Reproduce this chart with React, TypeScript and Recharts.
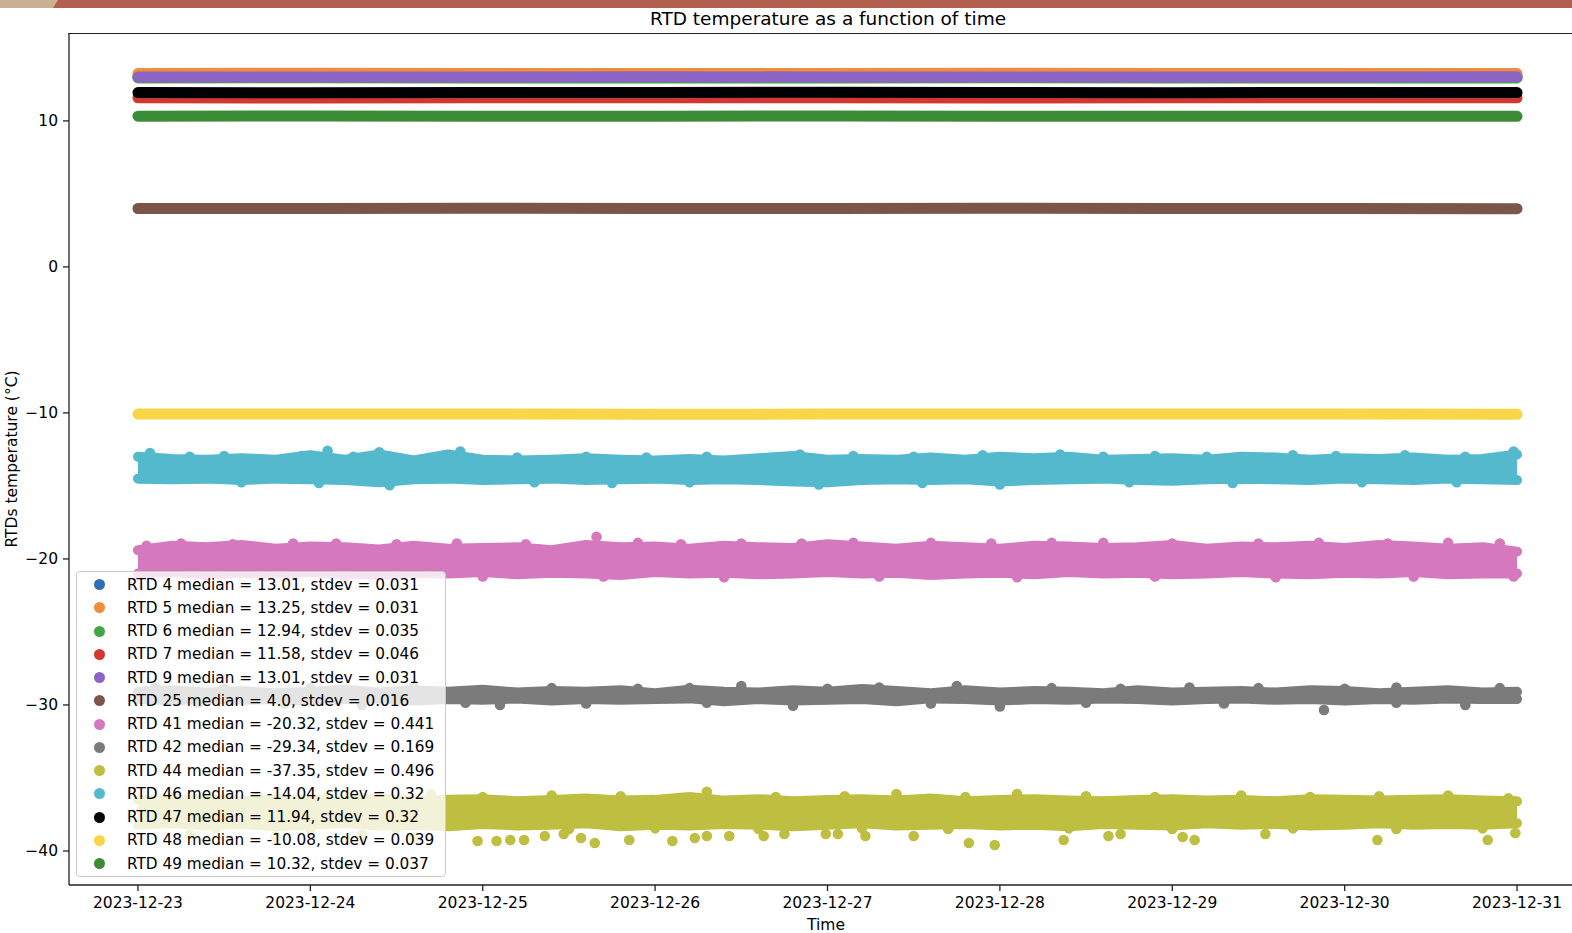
import React from 'react';
import { ComposedChart, Line, Area, Scatter, XAxis, YAxis } from 'recharts';

// x values are days after 2023-12-23 00:00
const dayTicks = [0, 1, 2, 3, 4, 5, 6, 7, 8];
const dayLabels = [
	'2023-12-23', '2023-12-24', '2023-12-25', '2023-12-26', '2023-12-27',
	'2023-12-28', '2023-12-29', '2023-12-30', '2023-12-31',
];
const yTicks = [-40, -30, -20, -10, 0, 10];

// stable sensors, one reading per day
const stableDays = [0, 1, 2, 3, 4, 5, 6, 7, 8];
const rtd4 = [13.01, 13.02, 13.0, 13.01, 13.01, 13.02, 13.0, 13.01, 13.01];
const rtd5 = [13.25, 13.26, 13.25, 13.24, 13.25, 13.26, 13.25, 13.25, 13.24];
const rtd6 = [12.94, 12.95, 12.93, 12.94, 12.94, 12.95, 12.94, 12.93, 12.94];
const rtd7 = [11.58, 11.57, 11.59, 11.58, 11.58, 11.57, 11.58, 11.59, 11.58];
const rtd9 = [13.01, 13.0, 13.01, 13.02, 13.01, 13.0, 13.01, 13.01, 13.02];
const rtd25 = [4.0, 4.0, 4.01, 4.0, 4.0, 4.01, 4.0, 4.0, 3.99];
const rtd47 = [11.94, 11.93, 11.95, 11.94, 11.96, 11.94, 11.93, 11.95, 11.94];
const rtd48 = [-10.08, -10.07, -10.08, -10.09, -10.08, -10.07, -10.08, -10.08, -10.09];
const rtd49 = [10.32, 10.33, 10.31, 10.32, 10.33, 10.31, 10.32, 10.32, 10.31];

// noisy sensors: envelope of the dot centres, sampled every 0.2 day
const sampleDays = [
	0, 0.2, 0.4, 0.6, 0.8, 1, 1.2, 1.4, 1.6, 1.8, 2, 2.2, 2.4, 2.6, 2.8, 3, 3.2, 3.4, 3.6, 3.8, 4,
	4.2, 4.4, 4.6, 4.8, 5, 5.2, 5.4, 5.6, 5.8, 6, 6.2, 6.4, 6.6, 6.8, 7, 7.2, 7.4, 7.6, 7.8, 8,
];
const rtd46Hi = [
	-13.0, -13.15, -13.2, -13.1, -13.2, -12.9, -13.2, -12.85, -13.25, -12.85, -13.2, -13.25, -13.2, -13.1,
	-13.2, -13.25, -13.15, -13.25, -13.1, -12.95, -13.2, -13.15, -13.2, -13.05, -13.2, -13.0, -13.1, -13.0,
	-13.2, -13.15, -13.1, -13.2, -13.0, -13.05, -13.2, -13.1, -13.15, -13.05, -13.2, -13.15, -12.85,
];
const rtd46Lo = [
	-14.5, -14.55, -14.5, -14.6, -14.5, -14.55, -14.6, -14.75, -14.55, -14.5, -14.6, -14.55, -14.5, -14.6,
	-14.55, -14.5, -14.6, -14.55, -14.6, -14.7, -14.75, -14.6, -14.55, -14.6, -14.55, -14.7, -14.6, -14.55,
	-14.5, -14.6, -14.65, -14.55, -14.5, -14.55, -14.6, -14.5, -14.55, -14.6, -14.5, -14.55, -14.6,
];
const rtd41Hi = [
	-19.4, -19.1, -19.2, -19.05, -19.3, -19.15, -19.2, -19.35, -19.1, -19.3, -19.25, -19.2, -19.4, -19.05,
	-19.2, -19.15, -19.3, -19.1, -19.2, -19.25, -19.0, -19.15, -19.3, -19.1, -19.2, -19.3, -19.1, -19.15,
	-19.25, -19.2, -19.05, -19.3, -19.15, -19.2, -19.1, -19.25, -19.05, -19.15, -19.3, -19.2, -19.5,
];
const rtd41Lo = [
	-21.0, -20.9, -21.05, -20.95, -21.0, -20.9, -21.0, -21.1, -20.95, -21.0, -20.9, -21.05, -20.95, -21.0,
	-21.1, -20.9, -21.0, -20.95, -21.05, -21.0, -20.9, -21.0, -20.95, -21.1, -21.0, -20.95, -21.05, -20.9,
	-21.0, -20.95, -21.05, -21.0, -20.9, -21.0, -21.05, -20.95, -21.0, -20.9, -21.05, -21.0, -21.0,
];
const rtd42Hi = [
	-29.1, -29.0, -29.15, -29.05, -29.2, -29.1, -28.95, -29.15, -29.0, -29.1, -28.95, -29.15, -29.05, -29.1,
	-29.0, -29.2, -28.95, -29.1, -29.15, -29.0, -29.1, -28.9, -29.05, -29.2, -29.0, -29.15, -29.05, -29.1,
	-29.2, -29.0, -29.15, -29.1, -29.05, -29.15, -29.0, -29.05, -29.2, -29.1, -29.0, -29.15, -29.1,
];
const rtd42Lo = [
	-29.6, -29.7, -29.55, -29.65, -29.6, -29.75, -29.6, -29.55, -29.7, -29.6, -29.65, -29.55, -29.7, -29.6,
	-29.65, -29.6, -29.55, -29.75, -29.6, -29.7, -29.65, -29.6, -29.75, -29.55, -29.6, -29.7, -29.6, -29.65,
	-29.55, -29.6, -29.7, -29.6, -29.55, -29.65, -29.6, -29.7, -29.6, -29.65, -29.55, -29.6, -29.6,
];
const rtd44Hi = [
	-36.5, -36.55, -36.4, -36.6, -36.45, -36.5, -36.6, -36.4, -36.55, -36.5, -36.45, -36.6, -36.5, -36.4,
	-36.55, -36.5, -36.3, -36.55, -36.45, -36.6, -36.5, -36.45, -36.55, -36.4, -36.6, -36.5, -36.45, -36.55,
	-36.6, -36.5, -36.45, -36.55, -36.5, -36.6, -36.45, -36.5, -36.55, -36.5, -36.45, -36.55, -36.6,
];
const rtd44Lo = [
	-38.2, -38.1, -38.25, -38.15, -38.3, -38.2, -38.1, -38.25, -38.2, -38.3, -38.15, -38.25, -38.2, -38.1,
	-38.3, -38.2, -38.25, -38.15, -38.2, -38.3, -38.2, -38.1, -38.25, -38.2, -38.15, -38.25, -38.2, -38.3,
	-38.15, -38.2, -38.25, -38.1, -38.2, -38.15, -38.25, -38.2, -38.1, -38.2, -38.15, -38.2, -38.1,
];

// single readings sticking out of the noisy bands [day, value]
const rtd46Spikes = [
	[0.07, -12.75], [1.1, -12.6], [1.4, -12.7], [1.87, -12.65], [3.84, -12.85], [5.35, -12.85], [7.98, -12.65],
	[1.46, -14.95], [3.95, -14.9], [5.0, -14.9], [0.5, -12.95], [2.6, -13.0], [6.7, -12.9],
	[0.3, -13.0], [0.95, -12.95], [1.25, -13.0], [2.2, -13.05], [2.95, -13.05], [3.3, -13.0], [4.15, -12.95],
	[4.5, -13.0], [4.9, -12.9], [5.6, -13.0], [5.9, -12.95], [6.2, -13.0], [6.95, -12.95], [7.35, -12.9],
	[7.7, -13.0], [0.6, -14.75], [1.05, -14.8], [2.3, -14.75], [2.75, -14.8], [3.2, -14.75], [4.55, -14.8],
	[5.75, -14.75], [6.35, -14.8], [7.1, -14.75], [7.65, -14.75],
];
const rtd41Spikes = [
	[2.66, -18.49], [0.9, -18.95], [3.5, -18.95], [4.6, -18.9], [5.6, -18.9], [7.9, -18.95], [1.5, -19.0],
	[6.5, -18.95], [0.05, -19.1], [7.98, -21.2],
	[0.25, -18.95], [0.55, -19.0], [1.15, -18.95], [1.85, -18.95], [2.25, -19.0], [2.9, -18.9], [3.15, -19.0],
	[3.85, -18.95], [4.15, -18.9], [4.95, -18.95], [5.3, -18.9], [6.0, -18.95], [6.85, -18.9], [7.25, -18.95],
	[7.6, -18.9], [0.4, -21.2], [1.2, -21.25], [2.0, -21.2], [2.7, -21.2], [3.4, -21.25], [4.3, -21.2],
	[5.1, -21.25], [5.9, -21.2], [6.6, -21.25], [7.4, -21.2],
];
const rtd42Spikes = [
	[0.1, -28.8], [1.6, -28.75], [3.5, -28.7], [4.3, -28.8], [4.75, -28.7], [6.1, -28.8], [7.3, -28.8],
	[2.1, -30.0], [3.8, -30.05], [5.0, -30.1], [6.88, -30.35], [7.7, -30.0], [1.3, -30.0],
	[0.5, -28.9], [1.0, -28.85], [2.4, -28.85], [2.9, -28.9], [3.2, -28.85], [4.0, -28.9], [5.3, -28.85],
	[5.7, -28.9], [6.5, -28.85], [7.0, -28.9], [7.9, -28.85], [0.35, -29.85], [0.85, -29.9], [1.9, -29.85],
	[2.6, -29.9], [3.3, -29.85], [4.6, -29.9], [5.5, -29.85], [6.3, -29.9], [7.3, -29.85],
];
const rtd44Spikes = [
	[3.3, -35.95], [1.7, -36.15], [4.4, -36.1], [5.1, -36.1], [2.4, -36.2], [6.4, -36.2], [7.6, -36.2],
	[1.97, -39.32], [2.08, -39.32], [2.16, -39.25], [2.24, -39.25], [2.36, -38.97], [2.47, -38.84],
	[2.57, -39.11], [2.65, -39.45], [2.85, -39.25], [3.1, -39.32], [3.23, -39.11], [3.3, -38.97],
	[3.43, -38.97], [3.63, -38.97], [3.75, -38.84], [3.99, -38.84], [4.06, -38.84], [4.22, -38.97],
	[4.5, -38.97], [4.82, -39.45], [4.97, -39.59], [5.37, -39.25], [5.63, -38.97], [5.7, -38.84],
	[6.06, -39.04], [6.13, -39.25], [6.54, -38.84], [7.19, -39.25], [7.83, -39.25], [7.99, -38.77],
	[0.3, -38.9], [0.8, -39.0], [1.3, -38.9], [1.6, -39.1],
	[0.2, -36.3], [0.7, -36.25], [1.1, -36.3], [1.4, -36.25], [2.0, -36.3], [2.8, -36.25], [3.7, -36.3],
	[4.1, -36.25], [4.8, -36.3], [5.5, -36.25], [5.9, -36.3], [6.8, -36.3], [7.2, -36.25], [7.95, -36.4],
	[0.45, -38.45], [1.0, -38.5], [1.5, -38.45], [2.5, -38.5], [3.0, -38.45], [3.6, -38.5], [4.2, -38.45],
	[4.7, -38.5], [5.4, -38.45], [6.0, -38.5], [6.7, -38.45], [7.3, -38.5], [7.8, -38.45],
];

const colors = {
	rtd4: '#326eb4', rtd5: '#f08c3c', rtd6: '#44a544', rtd7: '#d23732', rtd9: '#8c64c3',
	rtd25: '#7a5548', rtd41: '#d678be', rtd42: '#7b7b7b', rtd44: '#bebe41', rtd46: '#55b9cd',
	rtd47: '#000000', rtd48: '#f8d648', rtd49: '#3c8c37',
};

const legendItems = [
	{ color: colors.rtd4, label: 'RTD 4 median = 13.01, stdev = 0.031' },
	{ color: colors.rtd5, label: 'RTD 5 median = 13.25, stdev = 0.031' },
	{ color: colors.rtd6, label: 'RTD 6 median = 12.94, stdev = 0.035' },
	{ color: colors.rtd7, label: 'RTD 7 median = 11.58, stdev = 0.046' },
	{ color: colors.rtd9, label: 'RTD 9 median = 13.01, stdev = 0.031' },
	{ color: colors.rtd25, label: 'RTD 25 median = 4.0, stdev = 0.016' },
	{ color: colors.rtd41, label: 'RTD 41 median = -20.32, stdev = 0.441' },
	{ color: colors.rtd42, label: 'RTD 42 median = -29.34, stdev = 0.169' },
	{ color: colors.rtd44, label: 'RTD 44 median = -37.35, stdev = 0.496' },
	{ color: colors.rtd46, label: 'RTD 46 median = -14.04, stdev = 0.32' },
	{ color: colors.rtd47, label: 'RTD 47 median = 11.94, stdev = 0.32' },
	{ color: colors.rtd48, label: 'RTD 48 median = -10.08, stdev = 0.039' },
	{ color: colors.rtd49, label: 'RTD 49 median = 10.32, stdev = 0.037' },
];

const FONT = '"DejaVu Sans", sans-serif';

const daily = (vals: number[]) => stableDays.map((t, i) => ({ t, v: vals[i] }));
const spikes = (pts: number[][]) => pts.map(([t, v]) => ({ t, v }));

const bandRows = sampleDays.map((t, i) => ({
	t,
	rtd41: [rtd41Lo[i], rtd41Hi[i]],
	rtd42: [rtd42Lo[i], rtd42Hi[i]],
	rtd44: [rtd44Lo[i], rtd44Hi[i]],
	rtd46: [rtd46Lo[i], rtd46Hi[i]],
}));

const fmtY = (v: number) => (v < 0 ? '\u2212' + Math.abs(v) : String(v));
const fmtX = (v: number) => dayLabels[dayTicks.indexOf(v)] ?? '';

const dot = (color: string) => (props: any) =>
	<circle cx={props.cx} cy={props.cy} r={5.3} fill={color} />;

const stableLine = (key: keyof typeof colors, vals: number[]) => (
	<Line
		key={key}
		data={daily(vals)}
		dataKey='v'
		type='linear'
		stroke={colors[key]}
		strokeWidth={11}
		strokeLinecap='round'
		dot={false}
		activeDot={false}
		isAnimationActive={false}
	/>
);

const noisyBand = (key: 'rtd41' | 'rtd42' | 'rtd44' | 'rtd46', pts: number[][]) => [
	<Area
		key={key + '-band'}
		dataKey={key}
		type='linear'
		stroke={colors[key]}
		strokeWidth={10}
		strokeLinejoin='round'
		strokeLinecap='round'
		fill={colors[key]}
		fillOpacity={1}
		dot={false}
		activeDot={false}
		isAnimationActive={false}
	/>,
	<Scatter
		key={key + '-pts'}
		data={spikes(pts)}
		fill={colors[key]}
		shape={dot(colors[key])}
		isAnimationActive={false}
	/>,
];

const tickStyle = { fill: '#000', fontSize: 15.5, fontFamily: FONT };

export default function App() {
	return (
		<div style={{ position: 'absolute', left: 0, top: 0, width: 1572, height: 933, overflow: 'hidden', background: '#fff', fontFamily: FONT }}>
			<svg width={1572} height={8} style={{ position: 'absolute', left: 0, top: 0 }}>
				<rect x={0} y={0} width={1572} height={8} fill='#b35f4f' />
				<polygon points='0,0 58,0 53,8 0,8' fill='#c8b093' />
			</svg>
			<div style={{ position: 'absolute', left: 828, top: 18, transform: 'translate(-50%, -50%)', fontSize: 18.5, whiteSpace: 'nowrap', color: '#000' }}>
				RTD temperature as a function of time
			</div>
			<div style={{ position: 'absolute', left: 0, top: 0 }}>
				<ComposedChart width={1600} height={933} data={bandRows} margin={{ top: 34, right: 14, bottom: 0, left: 0 }}>
					<XAxis
						dataKey='t'
						type='number'
						domain={[-0.4, 8.4]}
						allowDataOverflow
						ticks={dayTicks}
						tickFormatter={fmtX}
						tick={tickStyle}
						tickSize={6}
						tickMargin={6}
						height={48}
						stroke='#222'
						strokeWidth={1.3}
						interval={0}
					/>
					<YAxis
						dataKey='v'
						type='number'
						domain={[-42.33, 15.95]}
						allowDataOverflow
						ticks={yTicks}
						tickFormatter={fmtY}
						tick={tickStyle}
						tickSize={6}
						tickMargin={5}
						width={69}
						stroke='#222'
						strokeWidth={1.3}
						interval={0}
					/>
					{stableLine('rtd4', rtd4)}
					{stableLine('rtd5', rtd5)}
					{stableLine('rtd6', rtd6)}
					{stableLine('rtd7', rtd7)}
					{stableLine('rtd9', rtd9)}
					{stableLine('rtd25', rtd25)}
					{noisyBand('rtd41', rtd41Spikes)}
					{noisyBand('rtd42', rtd42Spikes)}
					{noisyBand('rtd44', rtd44Spikes)}
					{noisyBand('rtd46', rtd46Spikes)}
					{stableLine('rtd47', rtd47)}
					{stableLine('rtd48', rtd48)}
					{stableLine('rtd49', rtd49)}
				</ComposedChart>
			</div>
			{/* top spine of the axes box */}
			<div style={{ position: 'absolute', left: 68.4, top: 33.4, width: 1520, height: 0, borderTop: '1.3px solid #222' }} />
			<div style={{ position: 'absolute', left: 76, top: 571, width: 370, height: 306, boxSizing: 'border-box', background: 'rgba(255,255,255,0.8)', border: '1px solid #cccccc', borderRadius: 4, paddingTop: 1 }}>
				{legendItems.map((item) => (
					<div key={item.label} style={{ height: 23.25, display: 'flex', alignItems: 'center', fontSize: 15.3, color: '#000', whiteSpace: 'nowrap' }}>
						<span style={{ display: 'inline-block', width: 11, height: 11, borderRadius: '50%', background: item.color, marginLeft: 17, marginRight: 22 }} />
						<span>{item.label}</span>
					</div>
				))}
			</div>
			<div style={{ position: 'absolute', left: 12, top: 459, transform: 'translate(-50%, -50%) rotate(-90deg)', fontSize: 15.5, whiteSpace: 'nowrap', color: '#000' }}>
				RTDs temperature (°C)
			</div>
			<div style={{ position: 'absolute', left: 826, top: 925, transform: 'translate(-50%, -50%)', fontSize: 15.5, whiteSpace: 'nowrap', color: '#000' }}>
				Time
			</div>
		</div>
	);
}
